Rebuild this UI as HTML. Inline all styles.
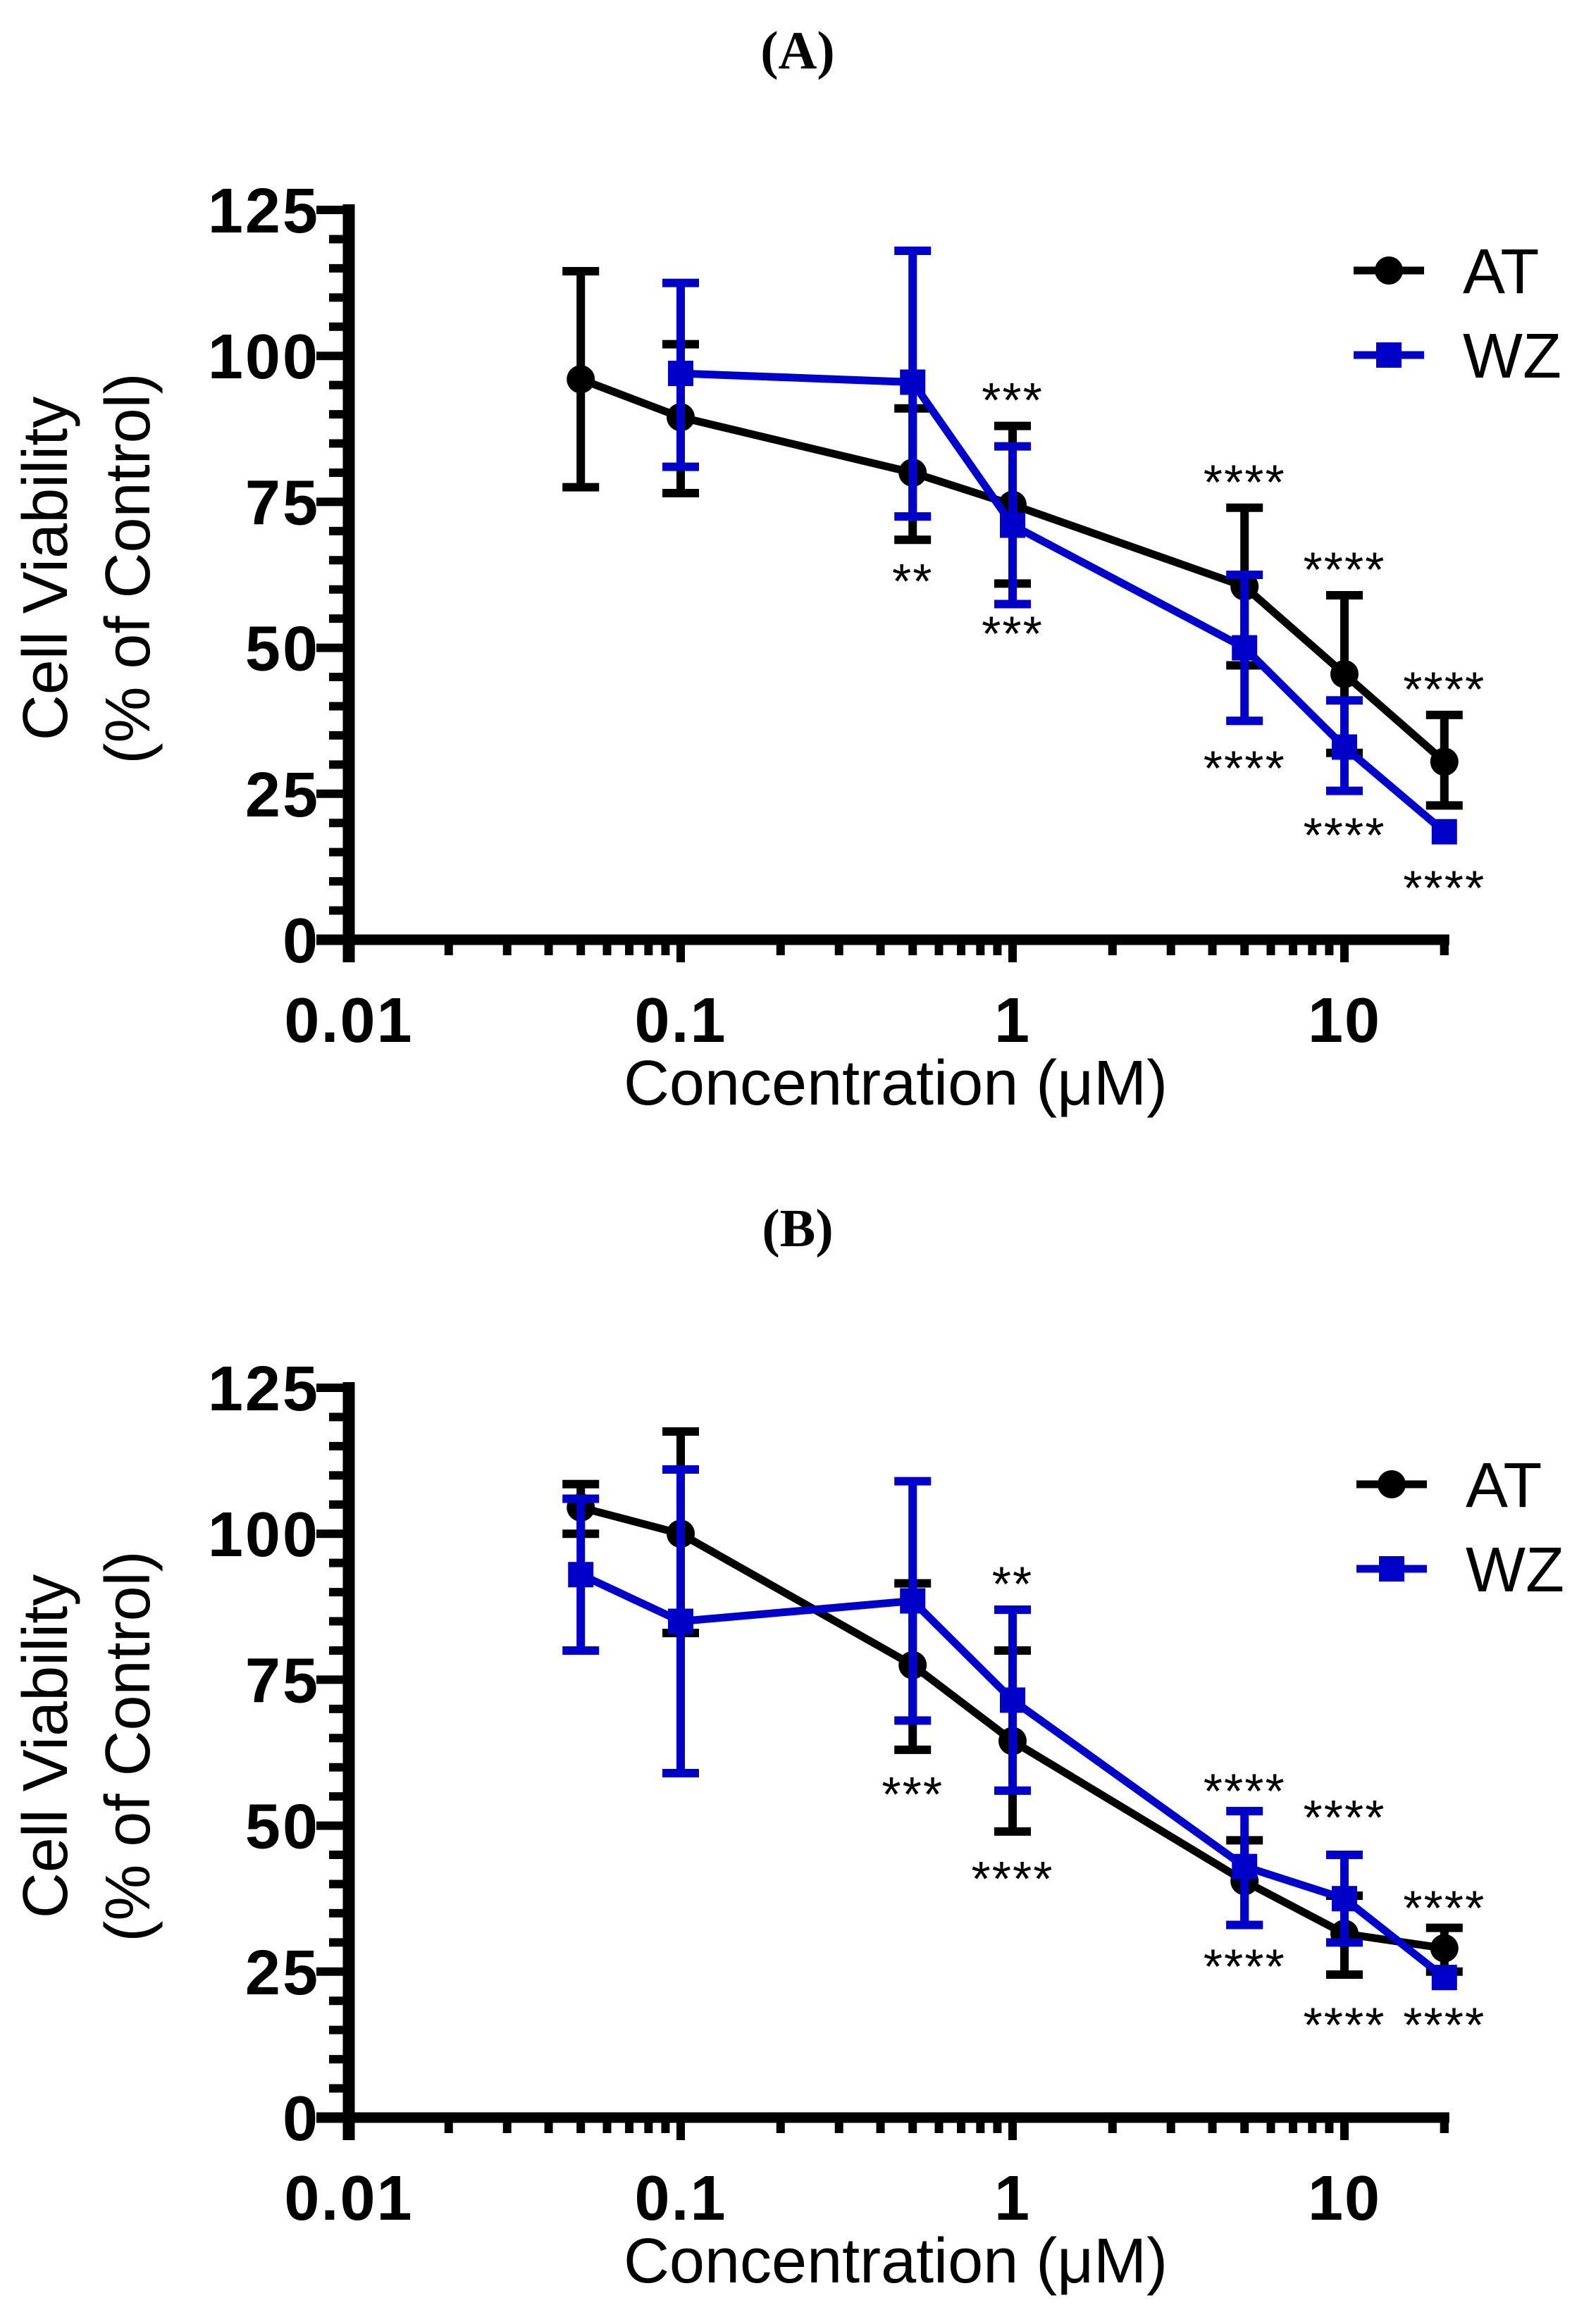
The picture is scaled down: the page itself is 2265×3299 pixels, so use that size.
<!DOCTYPE html>
<html><head><meta charset="utf-8">
<style>
html,body{margin:0;padding:0;background:#fff;}
svg{display:block;}
text{font-family:"Liberation Sans",Arial,sans-serif;}
</style></head>
<body>
<svg id="fig" width="2265" height="3299" viewBox="0 0 2265 3299" xmlns="http://www.w3.org/2000/svg"></svg>
<script>
// ---- Panel A data ----
const concA_AT = [0.05, 0.1, 0.5, 1, 5, 10, 20];
const meanA_AT = [96, 89.5, 80, 74.5, 60.5, 45.5, 30.5];
const lowA_AT = [77.5, 76.5, 68.5, 61, 47, 32, 23];
const highA_AT = [114.5, 102, 91, 88, 74, 59, 38.5];
const concA_WZ = [0.1, 0.5, 1, 5, 10, 20];
const meanA_WZ = [97, 95.5, 71, 50, 33, 18.5];
const lowA_WZ = [81, 72.5, 57.5, 37.5, 25.5, 18.5];
const highA_WZ = [112.5, 118, 84.5, 62.5, 41, 18.5];
const starsA_text = ["**", "***", "***", "****", "****", "****", "****", "****", "****"];
const starsA_x = [0.5, 1, 1, 5, 5, 10, 10, 20, 20];
const starsA_y = [58.5, 89.5, 49.5, 75.5, 26.5, 60.5, 15, 40, 6];
// ---- Panel B data ----
const concB_AT = [0.05, 0.1, 0.5, 1, 5, 10, 20];
const meanB_AT = [104.5, 100, 77.5, 64.5, 40.5, 31.5, 29];
const lowB_AT = [100, 83, 63, 49, 33, 24.5, 25];
const highB_AT = [108.5, 117.5, 91.5, 80, 47.5, 38, 32.5];
const concB_WZ = [0.05, 0.1, 0.5, 1, 5, 10, 20];
const meanB_WZ = [93, 85, 88.5, 71.5, 43, 37.5, 24];
const lowB_WZ = [80, 59, 68, 56, 33, 30, 24];
const highB_WZ = [106, 111, 109, 87, 52.5, 45, 24];
const starsB_text = ["***", "**", "****", "****", "****", "****", "****", "****", "****"];
const starsB_x = [0.5, 1, 1, 5, 5, 10, 10, 20, 20];
const starsB_y = [52.5, 88.5, 38, 53, 23, 48.5, 13, 33, 13];
const yTicks = [0, 25, 50, 75, 100, 125];
const xTickLabels = ["0.01", "0.1", "1", "10"];
const xTickVals = [0.01, 0.1, 1, 10];

const NS = "http://www.w3.org/2000/svg";
const svg = document.getElementById("fig");
function el(tag, attrs, parent, txt) {
  const e = document.createElementNS(NS, tag);
  for (const k in attrs) e.setAttribute(k, attrs[k]);
  if (txt !== undefined) e.textContent = txt;
  (parent || svg).appendChild(e);
  return e;
}

function panel(off, letter, d) {
  const g = el("g", {});
  
  
  const X0 = 495, DEC = 471, Y0 = 1334 + off, Y125 = 298 + off;
  const xs = v => X0 + (Math.log10(v) + 2) * DEC;
  const ys = v => Y0 - (v / 125) * (Y0 - Y125);

  const t = el("text", {x: 1132, y: 97 + off, "text-anchor": "middle", "font-size": 76, "font-weight": "bold", style: "font-family:'Liberation Serif',serif"}, g, "(" + letter + ")");
  
  

  // y axis
  const ya = el("line", {x1: X0, y1: Y125 - 8, x2: X0, y2: Y0 + 32, stroke: "#000", "stroke-width": 17}, g);
  
  
  for (let v = 0; v <= 125; v += 5) {
    const major = v % 25 === 0;
    el("line", {x1: X0 - (major ? 46 : 28), y1: ys(v), x2: X0, y2: ys(v), stroke: "#000", "stroke-width": 12}, g);
  }
  yTicks.forEach(v => {
    const tl = el("text", {x: 454, y: ys(v) + 32, "text-anchor": "end", "font-size": 90, "font-weight": "bold", "letter-spacing": 3}, g, String(v));
    
    
  });
  // x axis
  const xa = el("line", {x1: X0 - 46, y1: Y0, x2: xs(20) + 7, y2: Y0, stroke: "#000", "stroke-width": 15}, g);
  
  
  for (let e = -2; e <= 1; e++) {
    for (let m = 1; m <= 9; m++) {
      const v = m * Math.pow(10, e);
      if (v > 20) break;
      if (m === 1 && e === -2) continue;
      const major = m === 1;
      el("line", {x1: xs(v), y1: Y0, x2: xs(v), y2: Y0 + (major ? 32 : 22), stroke: "#000", "stroke-width": 12}, g);
    }
  }
  el("line", {x1: xs(20), y1: Y0, x2: xs(20), y2: Y0 + 22, stroke: "#000", "stroke-width": 12}, g);
  xTickVals.forEach((v, i) => {
    const tl = el("text", {x: xs(v), y: Y0 + 145, "text-anchor": "middle", "font-size": 90, "font-weight": "bold", "letter-spacing": 2}, g, xTickLabels[i]);
    
    
  });
  const xt = el("text", {x: 1271, y: Y0 + 234, "text-anchor": "middle", "font-size": 90}, g, "Concentration (μM)");
  
  
  const yt = el("text", {transform: `translate(95,${807 + off}) rotate(-90)`, "text-anchor": "middle", "font-size": 90}, g, "Cell Viability");
  
  
  const yt2 = el("text", {transform: `translate(212,${807 + off}) rotate(-90)`, "text-anchor": "middle", "font-size": 90}, g, "(% of Control)");
  
  

  function series(conc, mean, low, high, color, sq, name) {
    const sg = el("g", {}, g);
    
    
    conc.forEach((c, i) => {
      if (high[i] - low[i] < 0.5) return;
      const x = xs(c);
      el("line", {x1: x, y1: ys(low[i]), x2: x, y2: ys(high[i]), stroke: color, "stroke-width": 12}, sg);
      el("line", {x1: x - 26, y1: ys(low[i]), x2: x + 26, y2: ys(low[i]), stroke: color, "stroke-width": 12}, sg);
      el("line", {x1: x - 26, y1: ys(high[i]), x2: x + 26, y2: ys(high[i]), stroke: color, "stroke-width": 12}, sg);
    });
    const pts = conc.map((c, i) => xs(c) + "," + ys(mean[i])).join(" ");
    el("polyline", {points: pts, fill: "none", stroke: color, "stroke-width": 11}, sg);
    conc.forEach((c, i) => {
      let m;
      if (sq) m = el("rect", {x: xs(c) - 18, y: ys(mean[i]) - 18, width: 36, height: 36, fill: color}, sg);
      else m = el("circle", {cx: xs(c), cy: ys(mean[i]), r: 20, fill: color}, sg);
      
      
    });
  }
  series(d.atC, d.atM, d.atL, d.atH, "#000", false, "at");
  series(d.wzC, d.wzM, d.wzL, d.wzH, "#0000c8", true, "wz");

  d.sT.forEach((s, i) => {
    const st = el("text", {x: xs(d.sX[i]), y: ys(d.sY[i]), "text-anchor": "middle", "font-size": 70, "letter-spacing": 2}, g, s);
    
    
  });

  // legend
  const lg = el("g", {}, g);
  
  
  const ly1 = d.legY, ly2 = d.legY + 120;
  el("line", {x1: d.legX - 50, y1: ly1, x2: d.legX + 50, y2: ly1, stroke: "#000", "stroke-width": 11}, lg);
  el("circle", {cx: d.legX, cy: ly1, r: 20, fill: "#000"}, lg);
  el("text", {x: d.legX + 105, y: ly1 + 32, "font-size": 90}, lg, "AT");
  el("line", {x1: d.legX - 50, y1: ly2, x2: d.legX + 50, y2: ly2, stroke: "#0000c8", "stroke-width": 11}, lg);
  el("rect", {x: d.legX - 18, y: ly2 - 18, width: 36, height: 36, fill: "#0000c8"}, lg);
  el("text", {x: d.legX + 105, y: ly2 + 32, "font-size": 90}, lg, "WZ");
}

panel(0, "A", {atC: concA_AT, atM: meanA_AT, atL: lowA_AT, atH: highA_AT,
  wzC: concA_WZ, wzM: meanA_WZ, wzL: lowA_WZ, wzH: highA_WZ,
  sT: starsA_text, sX: starsA_x, sY: starsA_y, legX: 1971, legY: 384});
panel(1672, "B", {atC: concB_AT, atM: meanB_AT, atL: lowB_AT, atH: highB_AT,
  wzC: concB_WZ, wzM: meanB_WZ, wzL: lowB_WZ, wzH: highB_WZ,
  sT: starsB_text, sX: starsB_x, sY: starsB_y, legX: 1975, legY: 2107});
</script>
</body></html>
